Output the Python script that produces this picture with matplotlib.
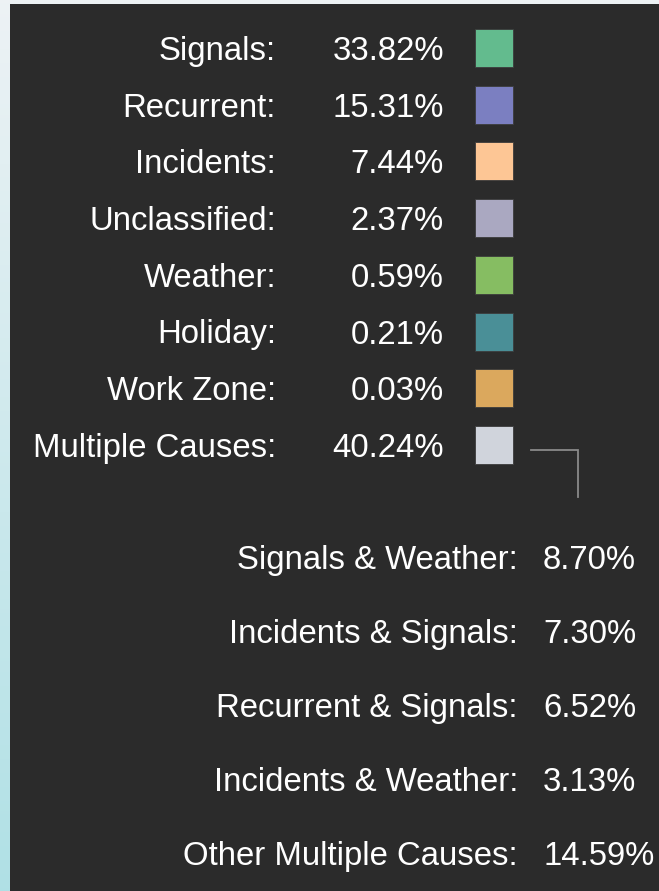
import matplotlib.pyplot as plt
import numpy as np
from matplotlib.patches import Rectangle

CAUSES = ["Signals", "Recurrent", "Incidents", "Unclassified", "Weather",
          "Holiday", "Work Zone", "Multiple Causes"]
SHARES = [33.82, 15.31, 7.44, 2.37, 0.59, 0.21, 0.03, 40.24]
SWATCH_COLORS = ["#63bb8e", "#7b7fc1", "#fdc695", "#aaa8c1", "#86bd62",
                 "#4a8f97", "#dba85d", "#d0d4dc"]

COMBOS = ["Signals & Weather", "Incidents & Signals", "Recurrent & Signals",
          "Incidents & Weather", "Other Multiple Causes"]
COMBO_SHARES = [8.70, 7.30, 6.52, 3.13, 14.59]

W, H, DPI = 659, 891, 100
PANEL = "#2b2b2b"
FONT = "Liberation Sans"
FS = 23.7

fig = plt.figure(figsize=(W / DPI, H / DPI), dpi=DPI)

# background: pale map-like strip on the left/top
bg = fig.add_axes([0, 0, 1, 1])
bg.set_axis_off()
grad = np.linspace(0, 1, 256)[:, None]
top_c = np.array([0.93, 0.95, 0.96])
bot_c = np.array([0.69, 0.88, 0.90])
img = top_c[None, None, :] * (1 - grad[..., None]) + bot_c[None, None, :] * grad[..., None]
bg.imshow(np.repeat(img, 2, axis=1), aspect="auto", extent=[0, 1, 0, 1])
bg.set_xlim(0, 1)
bg.set_ylim(0, 1)

ax = fig.add_axes([0, 0, 1, 1])
ax.set_xlim(0, W)
ax.set_ylim(H, 0)
ax.set_axis_off()
ax.patch.set_alpha(0)
ax.add_patch(Rectangle((10, 4), W - 10, H - 4, facecolor=PANEL, edgecolor="none"))

row0, step = 48, 56.7
sw = 38
for i, (name, share, color) in enumerate(zip(CAUSES, SHARES, SWATCH_COLORS)):
    y = row0 + i * step
    ax.text(276, y, f"{name}:", color="white", fontsize=FS, family=FONT,
            ha="right", va="center_baseline")
    ax.text(444, y, f"{share:.2f}%", color="white", fontsize=FS, family=FONT,
            ha="right", va="center_baseline")
    ax.add_patch(Rectangle((475, y - sw / 2), sw, sw, facecolor=color,
                           edgecolor="#3c3c3c", linewidth=0.6))

# connector from the "Multiple Causes" swatch to the breakdown
y_mult = row0 + (len(CAUSES) - 1) * step
ax.plot([531, 578, 578], [y_mult + 5, y_mult + 5, y_mult + 52],
        color="#8a8a8a", linewidth=1.3, solid_joinstyle="miter")

sub0, sub_step = 557, 74
for i, (name, share) in enumerate(zip(COMBOS, COMBO_SHARES)):
    y = sub0 + i * sub_step
    ax.text(518, y, f"{name}:", color="white", fontsize=FS, family=FONT,
            ha="right", va="center_baseline")
    ax.text(543, y, f"{share:.2f}%", color="white", fontsize=FS, family=FONT,
            ha="left", va="center_baseline")

fig.savefig("out.png", dpi=DPI, facecolor="white")
